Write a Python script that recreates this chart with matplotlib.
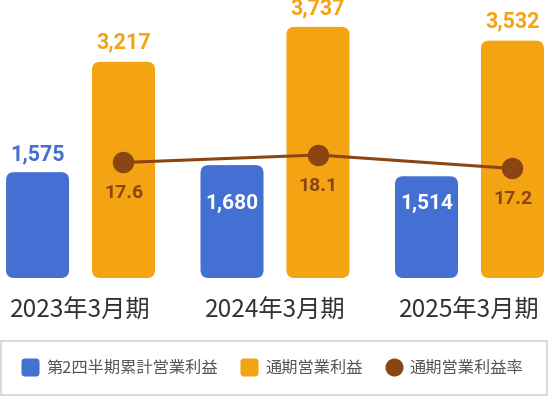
import matplotlib
matplotlib.use('Agg')
import matplotlib.pyplot as plt
from matplotlib.patches import FancyBboxPatch, Rectangle, BoxStyle
from matplotlib.lines import Line2D
import numpy as np

# データ
periods = ['2023年3月期', '2024年3月期', '2025年3月期']
h1_profit = [1575, 1680, 1514]      # 第2四半期累計営業利益
fy_profit = [3217, 3737, 3532]      # 通期営業利益
fy_margin = [17.6, 18.1, 17.2]      # 通期営業利益率
h1_label_inside = [False, True, True]

blue = '#4570D3'
orange = '#F4A312'
brown = '#8B4513'

plt.rcParams['font.family'] = ['Noto Sans CJK JP', 'DejaVu Sans']
num_font = ['Roboto', 'DejaVu Sans']

fig = plt.figure(figsize=(5.5, 3.96), dpi=100)
ax = fig.add_axes([0, 118/396, 1, 278/396])

x = np.arange(len(periods))
w = 0.324
off = 0.221
bars1 = ax.bar(x - off, h1_profit, w, color=blue)
bars2 = ax.bar(x + off, fy_profit, w, color=orange)
ax.set_xlim(-0.414, 2.414)
ax.set_ylim(0, 4137)

# 角丸にする
asp = (4137/278) / (2.828/550)
for b in list(bars1) + list(bars2):
    p = FancyBboxPatch((b.get_x(), b.get_y()), b.get_width(), b.get_height(),
                       boxstyle='round,pad=0,rounding_size=0.041',
                       mutation_aspect=asp, fc=b.get_facecolor(), ec='none', zorder=2)
    ax.add_patch(p)
    b.set_visible(False)

# 値ラベル
for i in range(len(x)):
    if h1_label_inside[i]:
        ax.text(x[i] - off, 1116, f'{h1_profit[i]:,}', color='white', ha='center', va='center',
                fontsize=15, fontweight='bold', family=num_font, zorder=4)
    else:
        ax.annotate(f'{h1_profit[i]:,}', (x[i] - off, h1_profit[i]), xytext=(0, 13),
                    textcoords='offset points', color=blue, ha='center', va='center',
                    fontsize=15.5, fontweight='bold', family=num_font, annotation_clip=False)
    ax.annotate(f'{fy_profit[i]:,}', (x[i] + off, fy_profit[i]), xytext=(0, 13.7),
                textcoords='offset points', color=orange, ha='center', va='center',
                fontsize=15.5, fontweight='bold', family=num_font, annotation_clip=False)

ax.set_xticks(x, periods, fontsize=17.5, color='#333333')
ax.tick_params(axis='x', length=0, pad=14)
ax.set_yticks([])
for s in ax.spines.values():
    s.set_visible(False)

# 営業利益率
ax2 = ax.twinx()
ax2.set_ylim(9.9, 28.43)
ax2.plot(x + off, fy_margin, color=brown, lw=2.2, marker='o', ms=14.4, zorder=3)
for i in range(len(x)):
    ax2.annotate(f'{fy_margin[i]}', (x[i] + off, fy_margin[i]), xytext=(0, -22.3),
                 textcoords='offset points', color=brown, ha='center', va='center',
                 fontsize=14, fontweight='bold', family=num_font)
ax2.axis('off')

# 凡例
fig.add_artist(Rectangle((0.8/550, 1.5/396), 546/550, 53.5/396, transform=fig.transFigure,
                         fill=False, ec='#d4d4d4', lw=1.2))
rsq = BoxStyle.Round(pad=0, rounding_size=0.2)(-0.5, -0.5, 1, 1, 1)
handles = [Line2D([], [], ls='none', marker=rsq, ms=13, mfc=blue, mec='none'),
           Line2D([], [], ls='none', marker=rsq, ms=13, mfc=orange, mec='none'),
           Line2D([], [], ls='none', marker='o', ms=13, mfc=brown, mec='none')]
labels = ['第2四半期累計営業利益', '通期営業利益', '通期営業利益率']
fig.legend(handles, labels, loc='center', bbox_to_anchor=(272/550, 28/396), ncol=3,
           frameon=False, fontsize=11.7, handlelength=1.2, handletextpad=0.4,
           columnspacing=1.3, labelcolor='#555555')

fig.savefig('out.png', dpi=100)
